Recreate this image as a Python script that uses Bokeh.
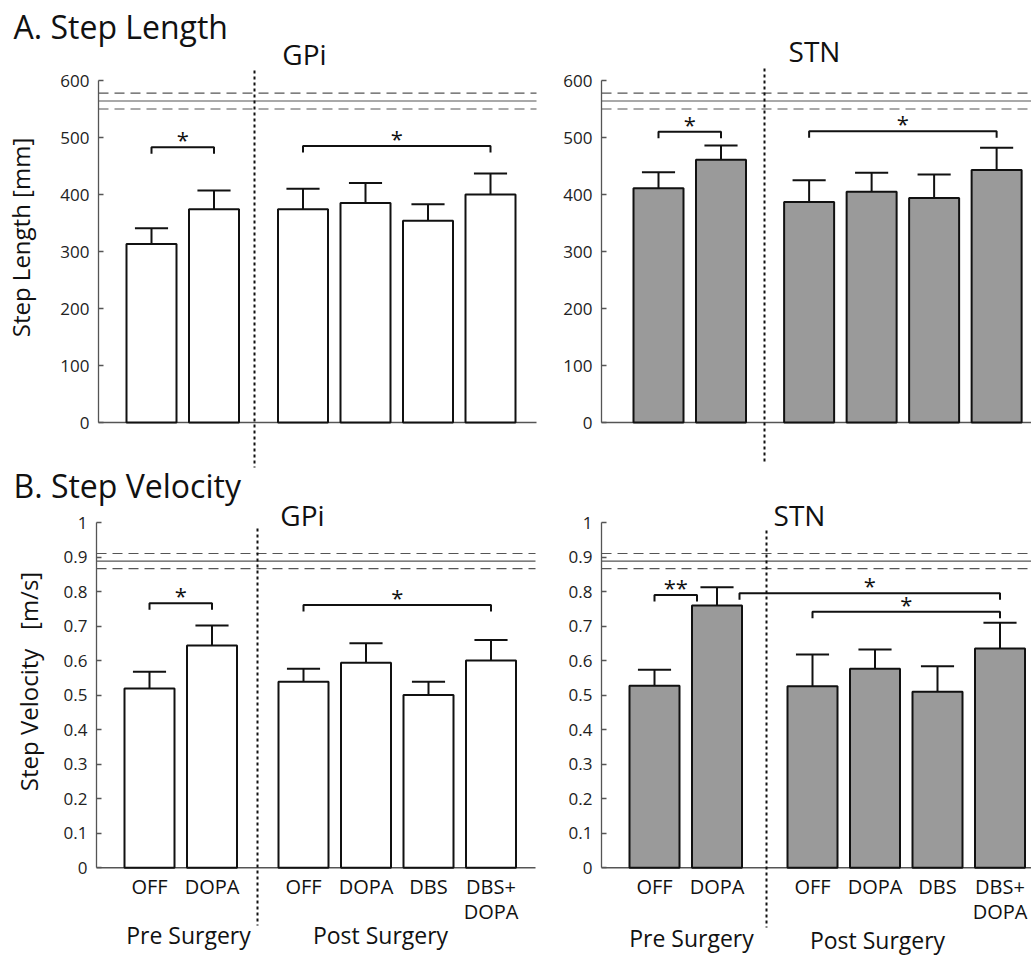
import math
from bokeh.plotting import figure
from bokeh.models import Range1d, FixedTicker, LinearAxis
from bokeh.embed import file_html
from bokeh.resources import INLINE
from bokeh.core.properties import value

# ---------------- data ----------------
conditions = ["OFF", "DOPA", "OFF", "DOPA", "DBS", "DBS+\nDOPA"]
groups = ["Pre Surgery", "Pre Surgery", "Post Surgery", "Post Surgery", "Post Surgery", "Post Surgery"]
group_names = ["Pre Surgery", "Post Surgery"]

gpi_length_mean = [313, 374, 374, 385, 354, 400]
gpi_length_sem = [28, 33, 36, 35, 29, 37]
stn_length_mean = [411, 461, 387, 405, 394, 443]
stn_length_sem = [28, 25, 38, 33, 41, 39]

gpi_velocity_mean = [0.520, 0.644, 0.539, 0.594, 0.501, 0.601]
gpi_velocity_sem = [0.048, 0.058, 0.038, 0.057, 0.038, 0.059]
stn_velocity_mean = [0.528, 0.760, 0.526, 0.577, 0.510, 0.636]
stn_velocity_sem = [0.046, 0.053, 0.092, 0.056, 0.074, 0.074]

# healthy controls: mean, sd
control_length = [564, 14]
control_velocity = [0.889, 0.022]

length_ticks = [0, 100, 200, 300, 400, 500, 600]
length_tick_labels = ["0", "100", "200", "300", "400", "500", "600"]
velocity_ticks = [0, 0.1, 0.2, 0.3, 0.4, 0.5, 0.6, 0.7, 0.8, 0.9, 1.0]
velocity_tick_labels = ["0", "0.1", "0.2", "0.3", "0.4", "0.5", "0.6", "0.7", "0.8", "0.9", "1"]

# significance brackets: (from bar, to bar, bracket level, label)
gpi_length_sig = [(0, 1, 483, "*"), (2, 5, 485, "*")]
stn_length_sig = [(0, 1, 510, "*"), (2, 5, 511, "*")]
gpi_velocity_sig = [(0, 1, 0.767, "*"), (2, 5, 0.762, "*")]
stn_velocity_sig = [(0, 1, 0.791, "**"), (1, 5, 0.796, "*"), (2, 5, 0.742, "*")]

FONT = "Open Sans"
SPACING = 62.5  # px per bar slot
W_TOTAL = 1031
H_TOTAL = 956
INK = "#111111"
GREY = "#555555"

p = figure(width=W_TOTAL, height=H_TOTAL, x_range=Range1d(0, W_TOTAL), y_range=Range1d(0, H_TOTAL),
           x_axis_location=None, y_axis_location=None, toolbar_location=None,
           output_backend="svg", min_border=0)
p.outline_line_color = None
p.grid.visible = False
p.background_fill_color = "white"
p.border_fill_color = "white"


def Y(py):
    return H_TOTAL - py


def add_panel(name, cfg):
    k = (cfg["zero_px"] - cfg["top_px"]) / cfg["top_val"]   # px per unit

    def vy(py):
        return (cfg["zero_px"] - py) / k

    def vx(px):
        return (px - cfg["c0"]) / SPACING

    p.extra_x_ranges[name] = Range1d(vx(0), vx(W_TOTAL))
    p.extra_y_ranges[name] = Range1d(vy(H_TOTAL), vy(0))
    rn = dict(x_range_name=name, y_range_name=name)

    pos = [i + (cfg["gap"] if g == "Post Surgery" else 0) for i, g in enumerate(groups)]

    # y axis
    ax = LinearAxis(fixed_location=vx(cfg["axis_px"]), bounds=(0, cfg["ticks"][-1]),
                    ticker=FixedTicker(ticks=cfg["ticks"]),
                    major_label_overrides={t: l for t, l in zip(cfg["ticks"], cfg["tick_labels"])},
                    major_tick_in=5, major_tick_out=0, minor_tick_line_color=None,
                    axis_line_color=GREY, axis_line_width=1.3,
                    major_tick_line_color=GREY, major_tick_line_width=1.3,
                    major_label_text_font=FONT, major_label_text_font_size="17px",
                    major_label_text_color="#222222", major_label_standoff=9, **rn)
    p.add_layout(ax, "left")

    x_left = vx(cfg["axis_px"])
    x_right = vx(cfg["right_px"])

    # control mean +/- sd
    cm, csd = cfg["control"]
    p.segment(x0=[x_left, x_left], x1=[x_right, x_right], y0=[cm + csd, cm - csd],
              y1=[cm + csd, cm - csd], line_color=GREY, line_width=1.2, line_dash="10 6", **rn)
    p.segment(x0=[x_left], x1=[x_right], y0=[cm], y1=[cm], line_color=GREY, line_width=1.2, **rn)
    # baseline
    p.segment(x0=[x_left], x1=[x_right], y0=[0], y1=[0], line_color=GREY, line_width=1.5, **rn)

    # dotted separator
    dx = vx(cfg["dotted_px"])
    p.segment(x0=[dx], y0=[vy(cfg["dot_top"])], x1=[dx], y1=[vy(cfg["dot_bot"])],
              line_color=INK, line_width=2, line_dash="3 3", **rn)

    means = cfg["means"]
    sems = cfg["sems"]
    tops = [m + s for m, s in zip(means, sems)]
    # error bars
    p.segment(x0=pos, y0=means, x1=pos, y1=tops, line_color=INK, line_width=2, **rn)
    p.segment(x0=[x - 0.265 for x in pos], y0=tops, x1=[x + 0.265 for x in pos], y1=tops,
              line_color=INK, line_width=2, **rn)
    # bars
    p.vbar(x=pos, top=means, bottom=0, width=0.8, fill_color=cfg["fill"],
           line_color=INK, line_width=2, **rn)

    # significance brackets
    tick = 6.5 / k
    xs, ys, sx, sy, st = [], [], [], [], []
    for j, (a, b, lvl, lab) in enumerate(cfg["sig"]):
        da, db = cfg["bracket_shift"].get(j, (0, 0))
        x1 = pos[a] + da
        x2 = pos[b] + db
        xs.append([x1, x1, x2, x2])
        ys.append([lvl - tick, lvl, lvl, lvl - tick])
        sx.append((x1 + x2) / 2)
        sy.append(lvl)
        st.append(lab)
    p.multi_line(xs=xs, ys=ys, line_color=INK, line_width=2, **rn)
    p.text(x=sx, y=sy, text=st, text_font=value(FONT), text_font_size="22px",
           text_align="center", text_baseline="alphabetic", text_color=INK,
           y_offset=-8, **rn)

    # panel title
    tx, ty = cfg["title_px"]
    p.text(x=[tx], y=[Y(ty)], text=[cfg["title"]], text_font=value(FONT),
           text_font_size="28px", text_align="center", text_baseline="alphabetic",
           text_color=INK, y_offset=-13)

    if cfg["xlabels"]:
        p.text(x=pos, y=[vy(cfg["cat_top_px"])] * len(pos), text=conditions,
               text_font=value(FONT), text_font_size="20px", text_align="center",
               text_baseline="top", text_color=INK, text_line_height=0.95, **rn)
        gx = [vx(px) for px, _ in cfg["group_px"]]
        gy = [vy(py) for _, py in cfg["group_px"]]
        p.text(x=gx, y=gy, text=group_names, text_font=value(FONT), text_font_size="23px",
               text_align="center", text_baseline="middle", text_color=INK, **rn)


common_top = dict(ticks=length_ticks, tick_labels=length_tick_labels, control=control_length,
                  top_val=600, top_px=80, zero_px=422, xlabels=False)
common_bot = dict(ticks=velocity_ticks, tick_labels=velocity_tick_labels, control=control_velocity,
                  top_val=1.0, top_px=522.3, zero_px=867.3, xlabels=True, cat_top_px=872)

add_panel("gpi_len", dict(common_top, means=gpi_length_mean, sems=gpi_length_sem, sig=gpi_length_sig,
                          fill="white", axis_px=98, right_px=536, c0=151, gap=0.424,
                          dotted_px=254, dot_top=70, dot_bot=467, bracket_shift={},
                          title="GPi", title_px=(304, 66)))
add_panel("stn_len", dict(common_top, means=stn_length_mean, sems=stn_length_sem, sig=stn_length_sig,
                          fill="#9a9a9a", axis_px=601, right_px=W_TOTAL, c0=658, gap=0.41,
                          dotted_px=764, dot_top=68, dot_bot=463, bracket_shift={},
                          title="STN", title_px=(814, 63)))
add_panel("gpi_vel", dict(common_bot, means=gpi_velocity_mean, sems=gpi_velocity_sem,
                          sig=gpi_velocity_sig, fill="white", axis_px=96, right_px=535, c0=149,
                          gap=0.464, dotted_px=257, dot_top=528, dot_bot=925, bracket_shift={},
                          title="GPi", title_px=(302, 527), group_px=[(188, 934), (380, 934)]))
add_panel("stn_vel", dict(common_bot, means=stn_velocity_mean, sems=stn_velocity_sem,
                          sig=stn_velocity_sig, fill="#9a9a9a", axis_px=601, right_px=W_TOTAL,
                          c0=654, gap=0.528, dotted_px=766, dot_top=530, dot_bot=927,
                          bracket_shift={0: (0, -0.32), 1: (0.36, 0)},
                          title="STN", title_px=(799, 527), group_px=[(691, 937), (877, 939)]))

# headings
p.text(x=[13, 13], y=[Y(38), Y(497)], text=["A. Step Length", "B. Step Velocity"],
       text_font=value(FONT), text_font_size="32px", text_align="left",
       text_baseline="alphabetic", text_color=INK, y_offset=-12)
# y axis titles
p.text(x=[20, 28], y=[Y(237), Y(681)], text=["Step Length [mm]", "Step Velocity \u00a0\u00a0[m/s]"],
       text_font=value(FONT), text_font_size="24px", text_align="center",
       text_baseline="middle", angle=math.pi / 2, text_color=INK)

open("out.html", "w").write(file_html(p, INLINE))
